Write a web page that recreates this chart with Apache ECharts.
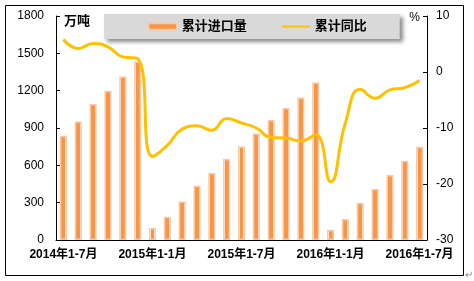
<!DOCTYPE html>
<html><head><meta charset="utf-8">
<script src="https://cdn.jsdelivr.net/npm/echarts@6/dist/echarts.min.js"></script>
<style>html,body{margin:0;padding:0;background:#fff}#c{width:474px;height:281px}</style>
</head><body><div id="c"></div>
<script>
var categories = ['2014年1-7月','2014年1-8月','2014年1-9月','2014年1-10月','2014年1-11月','2014年1-12月',
  '2015年1-1月','2015年1-2月','2015年1-3月','2015年1-4月','2015年1-5月','2015年1-6月',
  '2015年1-7月','2015年1-8月','2015年1-9月','2015年1-10月','2015年1-11月','2015年1-12月',
  '2016年1-1月','2016年1-2月','2016年1-3月','2016年1-4月','2016年1-5月','2016年1-6月','2016年1-7月'];
var importVolume = [838,952,1092,1200,1314,1435,96,187,310,436,538,650,752,856,964,1060,1146,1266,80,168,297,409,522,637,749];
var yoyChange = [5.8,4.2,5.1,4.5,2.7,2.4,-15.1,-13.1,-10.2,-9.6,-10.4,-8.3,-9.1,-10.0,-11.7,-11.8,-12.3,-11.2,-19.6,-9.1,-3.1,-4.7,-3.2,-2.8,-1.5];
var leftTicks = {min:0, max:1800, interval:300};
var rightTicks = {min:-30, max:10, interval:10};
var seriesNames = ['累计进口量','累计同比'];
var unitLeft = '万吨', unitRight = '%';

var FONT = '"Liberation Sans", Arial, "Noto Sans CJK SC", sans-serif';
var chart = echarts.init(document.getElementById('c'), null, {renderer:'canvas'});
chart.setOption({
  animation:false,
  backgroundColor:'#fff',
  textStyle:{fontFamily:FONT},
  grid:{left:56,right:47,top:16,bottom:41,containLabel:false},
  legend:{
    left:104, top:14, padding:[6,33,6,44], itemGap:34, itemWidth:28, itemHeight:6,
    backgroundColor:'#d9d9d9', shadowColor:'rgba(0,0,0,0.45)', shadowBlur:4, shadowOffsetX:3, shadowOffsetY:3,
    textStyle:{fontSize:13, fontWeight:'bold', color:'#000', fontFamily:FONT},
    data:[
      {name:seriesNames[0], icon:'rect', itemStyle:{color:'#f79646', borderColor:'#fac7a2', borderWidth:1.5}},
      {name:seriesNames[1], itemStyle:{color:'rgba(0,0,0,0)', borderWidth:0, opacity:0}}
    ]
  },
  xAxis:{
    type:'category', data:categories, boundaryGap:true,
    axisLine:{lineStyle:{color:'#000', width:1}},
    axisTick:{inside:true, length:4, interval:5, lineStyle:{color:'#000'}},
    axisLabel:{interval:5, margin:9, fontSize:12, fontWeight:'bold', color:'#000', fontFamily:FONT}
  },
  yAxis:[
    {type:'value', min:leftTicks.min, max:leftTicks.max, interval:leftTicks.interval,
     name:unitLeft, nameLocation:'end', nameGap:-5,
     nameTextStyle:{align:'left', verticalAlign:'middle', padding:[0,0,0,8], fontSize:13, fontWeight:'bold', color:'#000', fontFamily:FONT},
     axisLine:{show:true, lineStyle:{color:'#000'}},
     axisTick:{show:true, inside:true, length:4, lineStyle:{color:'#000'}},
     axisLabel:{margin:12, fontSize:12, color:'#000', fontFamily:FONT, formatter:function(v){return String(v);}},
     splitLine:{show:false}},
    {type:'value', position:'right', min:rightTicks.min, max:rightTicks.max, interval:rightTicks.interval,
     name:unitRight, nameLocation:'end', nameGap:-2,
     nameTextStyle:{align:'right', verticalAlign:'middle', padding:[0,7,0,0], fontSize:12, color:'#000', fontFamily:FONT},
     axisLine:{show:true, lineStyle:{color:'#000'}},
     axisTick:{show:true, inside:true, length:4, lineStyle:{color:'#000'}},
     axisLabel:{margin:9, fontSize:12, color:'#000', fontFamily:FONT, formatter:function(v){return String(v);}},
     splitLine:{show:false}}
  ],
  series:[
    {name:seriesNames[0], type:'bar', data:importVolume, barWidth:7, yAxisIndex:0,
     itemStyle:{
       borderColor:'#fac7a2', borderWidth:1.5,
       color:new echarts.graphic.LinearGradient(0,0,1,0,[
         {offset:0,color:'#ffffff'},{offset:0.22,color:'#ffffff'},
         {offset:0.22,color:'#f79646'},{offset:0.78,color:'#f79646'},
         {offset:0.78,color:'#ffffff'},{offset:1,color:'#ffffff'}])
     }},
    {name:seriesNames[1], type:'line', data:yoyChange, yAxisIndex:1, smooth:0.5,
     symbol:'none', showSymbol:false, z:5,
     lineStyle:{color:'#ffc000', width:3}, itemStyle:{color:'#ffc000'}}
  ],
  graphic:[
    {type:'rect', shape:{x:5.5,y:5.5,width:458,height:270}, style:{fill:'none', stroke:'#000', lineWidth:1}, silent:true},
    {type:'text', left:465, top:270, style:{text:'↵', fill:'#888', fontSize:10, fontFamily:FONT}, silent:true}
  ]
});
</script></body></html>
